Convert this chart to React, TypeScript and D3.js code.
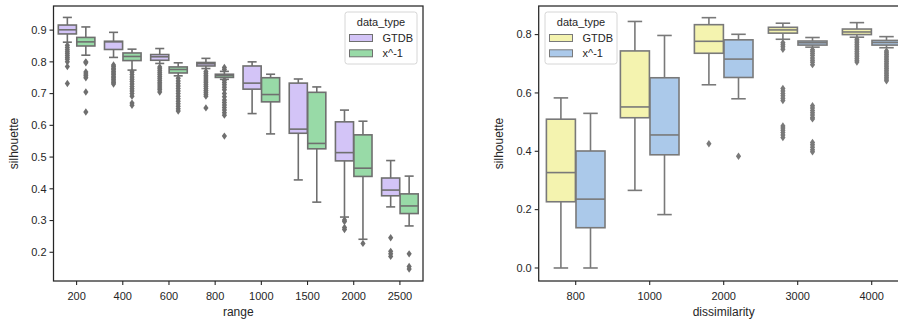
import React from "react";
import * as d3 from "d3";

// ---------- Left chart: silhouette by range ----------
const rangeCats = ["200", "400", "600", "800", "1000", "1500", "2000", "2500"];
const rangeTicks = [0.2, 0.3, 0.4, 0.5, 0.6, 0.7, 0.8, 0.9];

const rGtdbLow = [0.862, 0.814, 0.795, 0.779, 0.637, 0.428, 0.311, 0.343];
const rGtdbQ1 = [0.888, 0.839, 0.805, 0.787, 0.714, 0.575, 0.488, 0.378];
const rGtdbMed = [0.901, 0.863, 0.816, 0.794, 0.733, 0.588, 0.514, 0.396];
const rGtdbQ3 = [0.916, 0.865, 0.823, 0.798, 0.787, 0.733, 0.611, 0.434];
const rGtdbHigh = [0.94, 0.893, 0.842, 0.811, 0.8, 0.746, 0.648, 0.489];
const rGtdbOut = [
  [0.852, 0.845, 0.838, 0.832, 0.826, 0.82, 0.814, 0.808, 0.8, 0.785, 0.732],
  [0.79, 0.785, 0.78, 0.775, 0.77, 0.765, 0.76, 0.755, 0.75, 0.745, 0.74, 0.735, 0.73],
  [0.784, 0.778, 0.772, 0.766, 0.76, 0.754, 0.748, 0.742, 0.736, 0.73, 0.724, 0.718, 0.712, 0.705],
  [0.77, 0.764, 0.758, 0.752, 0.746, 0.74, 0.734, 0.728, 0.722, 0.716, 0.71, 0.704, 0.698, 0.692, 0.655],
  [],
  [],
  [0.302, 0.297, 0.278, 0.272],
  [0.246, 0.203, 0.195, 0.187],
];

const rInvLow = [0.821, 0.774, 0.756, 0.745, 0.573, 0.358, 0.241, 0.283];
const rInvQ1 = [0.85, 0.804, 0.765, 0.751, 0.674, 0.526, 0.439, 0.322];
const rInvMed = [0.863, 0.817, 0.776, 0.757, 0.697, 0.543, 0.465, 0.346];
const rInvQ3 = [0.877, 0.828, 0.784, 0.761, 0.75, 0.704, 0.57, 0.384];
const rInvHigh = [0.91, 0.84, 0.797, 0.77, 0.761, 0.721, 0.613, 0.44];
const rInvOut = [
  [0.8, 0.797, 0.768, 0.762, 0.756, 0.75, 0.705, 0.642],
  [0.768, 0.76, 0.752, 0.745, 0.738, 0.73, 0.722, 0.715, 0.708, 0.7, 0.692, 0.67, 0.663],
  [0.748, 0.74, 0.732, 0.724, 0.716, 0.708, 0.7, 0.692, 0.684, 0.676, 0.668, 0.66, 0.652, 0.645],
  [0.782, 0.776, 0.742, 0.735, 0.728, 0.72, 0.712, 0.7, 0.69, 0.68, 0.672, 0.664, 0.656, 0.648, 0.64, 0.632, 0.566],
  [],
  [],
  [0.228],
  [0.195, 0.155, 0.147],
];

// ---------- Right chart: silhouette by dissimilarity ----------
const dissCats = ["800", "1000", "2000", "3000", "4000"];
const dissTicks = [0.0, 0.2, 0.4, 0.6, 0.8];

const dGtdbLow = [0.0, 0.266, 0.628, 0.784, 0.791];
const dGtdbQ1 = [0.227, 0.515, 0.736, 0.805, 0.8];
const dGtdbMed = [0.327, 0.552, 0.777, 0.816, 0.809];
const dGtdbQ3 = [0.51, 0.744, 0.834, 0.825, 0.819];
const dGtdbHigh = [0.583, 0.845, 0.858, 0.839, 0.841];
const dGtdbOut = [
  [],
  [],
  [0.426],
  [0.772, 0.765, 0.758, 0.75, 0.615, 0.607, 0.598, 0.59, 0.582, 0.574, 0.487, 0.48, 0.472, 0.464, 0.456, 0.447],
  [0.784, 0.778, 0.772, 0.766, 0.76, 0.754, 0.748, 0.742, 0.736, 0.73, 0.724, 0.718, 0.712, 0.706],
];

const dInvLow = [0.0, 0.183, 0.58, 0.757, 0.755];
const dInvQ1 = [0.138, 0.388, 0.653, 0.764, 0.764];
const dInvMed = [0.236, 0.456, 0.716, 0.772, 0.773];
const dInvQ3 = [0.401, 0.652, 0.782, 0.778, 0.78];
const dInvHigh = [0.53, 0.797, 0.801, 0.79, 0.793];
const dInvOut = [
  [],
  [],
  [0.383],
  [0.748, 0.742, 0.735, 0.728, 0.72, 0.712, 0.705, 0.697, 0.556, 0.548, 0.54, 0.532, 0.524, 0.516, 0.511, 0.43, 0.422, 0.414, 0.405, 0.398],
  [0.744, 0.738, 0.732, 0.726, 0.72, 0.714, 0.708, 0.702, 0.696, 0.69, 0.684, 0.678, 0.672, 0.666, 0.66, 0.654, 0.648, 0.642],
];

const seriesNames = ["GTDB", "x^-1"];

type Series = {
  low: number[];
  q1: number[];
  med: number[];
  q3: number[];
  high: number[];
  out: number[][];
  color: string;
};

const FONT = "'Liberation Sans', Arial, 'DejaVu Sans', sans-serif";
const TXT = "#262626";

function diamond(cx: number, cy: number) {
  const w = 2.6;
  const h = 3.7;
  return `M${cx},${cy - h}L${cx + w},${cy}L${cx},${cy + h}L${cx - w},${cy}Z`;
}

type PanelProps = {
  left: number;
  right: number;
  top: number;
  bottom: number;
  cats: string[];
  ticks: number[];
  yDomain: [number, number];
  tickFmt: (v: number) => string;
  series: Series[];
  gray: string;
  xLabel: string;
  legendX: number;
};

function Panel(p: PanelProps) {
  const x = d3.scaleBand<string>().domain(p.cats).range([p.left, p.right]).padding(0);
  const y = d3.scaleLinear().domain(p.yDomain).range([p.bottom, p.top]);
  const bw = x.bandwidth();
  const boxW = (bw * 0.8) / p.series.length * 0.98;
  const lw = 1.6;
  const legW = 72;
  const legY = 12;
  return (
    <g>
      {p.cats.map((c, i) => {
        const center = (x(c) as number) + bw / 2;
        return p.series.map((s, j) => {
          const cx = center + (j - (p.series.length - 1) / 2) * (bw * 0.8) / p.series.length;
          const x0 = cx - boxW / 2;
          const capW = boxW / 2;
          return (
            <g key={c + "-" + j}>
              <line x1={cx} x2={cx} y1={y(s.q3[i])} y2={y(s.high[i])} stroke={p.gray} strokeWidth={lw} />
              <line x1={cx} x2={cx} y1={y(s.q1[i])} y2={y(s.low[i])} stroke={p.gray} strokeWidth={lw} />
              <line x1={cx - capW / 2} x2={cx + capW / 2} y1={y(s.high[i])} y2={y(s.high[i])} stroke={p.gray} strokeWidth={lw} />
              <line x1={cx - capW / 2} x2={cx + capW / 2} y1={y(s.low[i])} y2={y(s.low[i])} stroke={p.gray} strokeWidth={lw} />
              <rect
                x={x0}
                y={y(s.q3[i])}
                width={boxW}
                height={Math.max(0.5, y(s.q1[i]) - y(s.q3[i]))}
                fill={s.color}
                stroke={p.gray}
                strokeWidth={lw}
              />
              <line x1={x0} x2={x0 + boxW} y1={y(s.med[i])} y2={y(s.med[i])} stroke={p.gray} strokeWidth={lw} />
              {s.out[i].map((v, k) => (
                <path key={k} d={diamond(cx, y(v))} fill={p.gray} />
              ))}
            </g>
          );
        });
      })}
      {/* frame */}
      <rect x={p.left} y={p.top} width={p.right - p.left} height={p.bottom - p.top} fill="none" stroke={TXT} strokeWidth={1.25} />
      {/* y ticks */}
      {p.ticks.map((t) => (
        <g key={"y" + t}>
          <line x1={p.left - 4} x2={p.left} y1={y(t)} y2={y(t)} stroke={TXT} strokeWidth={1.1} />
          <text x={p.left - 7} y={y(t)} dy="0.35em" textAnchor="end" fontSize={11} fill={TXT} fontFamily={FONT}>
            {p.tickFmt(t)}
          </text>
        </g>
      ))}
      {/* x ticks */}
      {p.cats.map((c) => {
        const cx = (x(c) as number) + bw / 2;
        return (
          <g key={"x" + c}>
            <line x1={cx} x2={cx} y1={p.bottom} y2={p.bottom + 4} stroke={TXT} strokeWidth={1.1} />
            <text x={cx} y={p.bottom + 18.5} textAnchor="middle" fontSize={11} fill={TXT} fontFamily={FONT}>
              {c}
            </text>
          </g>
        );
      })}
      <text x={(p.left + p.right) / 2} y={p.bottom + 34.5} textAnchor="middle" fontSize={12} fill={TXT} fontFamily={FONT}>
        {p.xLabel}
      </text>
      <text
        transform={`translate(${p.left - 36},${(p.top + p.bottom) / 2}) rotate(-90)`}
        textAnchor="middle"
        fontSize={12}
        fill={TXT}
        fontFamily={FONT}
      >
        silhouette
      </text>
      {/* legend */}
      <g>
        <rect x={p.legendX} y={legY} width={legW} height={52} rx={2.5} fill="white" fillOpacity={0.8} stroke="#d6d6d6" strokeWidth={1} />
        <text x={p.legendX + legW / 2} y={legY + 14} textAnchor="middle" fontSize={11} fill={TXT} fontFamily={FONT}>
          data_type
        </text>
        {p.series.map((s, j) => (
          <g key={"leg" + j}>
            <rect x={p.legendX + 4.5} y={legY + 22.5 + j * 15.3} width={23} height={7} fill={s.color} stroke={p.gray} strokeWidth={1} />
            <text x={p.legendX + 37.5} y={legY + 26 + j * 15.3} dy="0.35em" fontSize={11} fill={TXT} fontFamily={FONT}>
              {seriesNames[j]}
            </text>
          </g>
        ))}
      </g>
    </g>
  );
}

export default function App() {
  const leftSeries: Series[] = [
    { low: rGtdbLow, q1: rGtdbQ1, med: rGtdbMed, q3: rGtdbQ3, high: rGtdbHigh, out: rGtdbOut, color: "#d3c4f7" },
    { low: rInvLow, q1: rInvQ1, med: rInvMed, q3: rInvQ3, high: rInvHigh, out: rInvOut, color: "#98daa7" },
  ];
  const rightSeries: Series[] = [
    { low: dGtdbLow, q1: dGtdbQ1, med: dGtdbMed, q3: dGtdbQ3, high: dGtdbHigh, out: dGtdbOut, color: "#f4f3af" },
    { low: dInvLow, q1: dInvQ1, med: dInvMed, q3: dInvQ3, high: dInvHigh, out: dInvOut, color: "#abc9ea" },
  ];
  return (
    <svg width={898} height={320} style={{ position: "absolute", left: 0, top: 0, background: "white" }}>
      <rect x={0} y={0} width={898} height={320} fill="white" />
      <Panel
        left={53.5}
        right={423}
        top={6}
        bottom={281}
        cats={rangeCats}
        ticks={rangeTicks}
        yDomain={[0.1095, 0.976]}
        tickFmt={(v) => d3.format(".1f")(v)}
        series={leftSeries}
        gray="#6f6f6f"
        xLabel="range"
        legendX={345}
      />
      <Panel
        left={538.7}
        right={908.7}
        top={6}
        bottom={281}
        cats={dissCats}
        ticks={dissTicks}
        yDomain={[-0.0446, 0.898]}
        tickFmt={(v) => d3.format(".1f")(v)}
        series={rightSeries}
        gray="#797979"
        xLabel="dissimilarity"
        legendX={545}
      />
    </svg>
  );
}
